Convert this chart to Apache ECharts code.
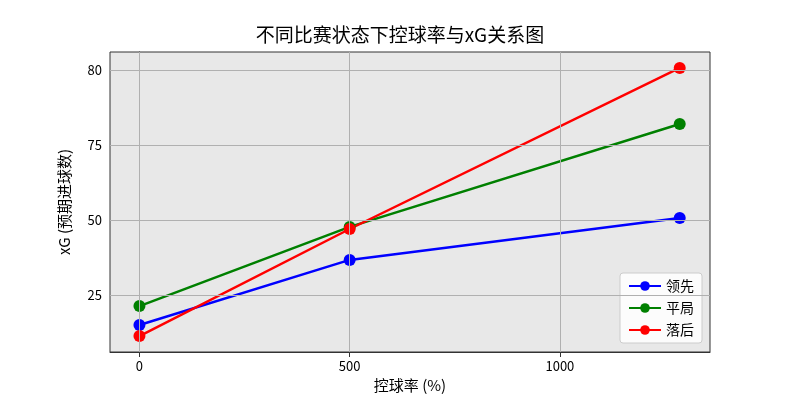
<!DOCTYPE html><html><head><meta charset="utf-8"><script src="https://cdn.jsdelivr.net/npm/echarts@6/dist/echarts.min.js"></script></head><body style="margin:0;background:#fff"><div id="c" style="width:800px;height:400px"></div><script>
const xVals=[0,500,1285];
const lead=[15,36.7,50.7];
const draw=[21.3,47.7,82];
const behind=[11.3,47,100.7];
const xTicks=[0,500,1000];
const yTicks=[25,50,75,100];
const yTickLabels=['25','50','75','80'];
const names=['领先','平局','落后'];
const colors=['#0000ff','#008000','#ff0000'];
const ff='"Noto Sans CJK SC", "DejaVu Sans", sans-serif';
const ch=echarts.init(document.getElementById('c'));
const mk=(n,d,c)=>({name:n,type:'line',data:xVals.map((x,i)=>[x,d[i]]),symbol:'circle',symbolSize:12,itemStyle:{color:c},lineStyle:{color:c,width:2.5},z:3});
ch.setOption({
 backgroundColor:'#fff',
 title:{text:'不同比赛状态下控球率与xG关系图',left:'center',top:20,textStyle:{fontFamily:ff,fontSize:19,fontWeight:'normal',color:'#000'}},
 grid:{left:110,right:90,top:52,bottom:48,show:true,backgroundColor:'#e8e8e8',borderColor:'#333',borderWidth:1},
 legend:{orient:'vertical',right:98,bottom:57,itemWidth:32,itemHeight:12,itemGap:8,backgroundColor:'rgba(255,255,255,0.85)',borderColor:'#ccc',borderWidth:1,borderRadius:3,padding:[6,8],textStyle:{fontFamily:ff,fontSize:14,color:'#000'},data:names},
 xAxis:{type:'value',min:-70,max:1357,name:'控球率 (%)',nameLocation:'middle',nameGap:24,nameTextStyle:{fontFamily:ff,fontSize:15,color:'#000'},
  axisLine:{lineStyle:{color:'#333'}},axisTick:{show:true,customValues:xTicks,lineStyle:{color:'#333'}},axisLabel:{customValues:xTicks,color:'#000',fontFamily:ff,fontSize:13,formatter:v=>String(v)},splitLine:{show:false}},
 yAxis:{type:'value',min:6,max:106,name:'xG (预期进球数)',nameLocation:'middle',nameGap:38,nameTextStyle:{fontFamily:ff,fontSize:15,color:'#000'},
  axisLine:{show:true,lineStyle:{color:'#333'}},axisTick:{show:true,customValues:yTicks,lineStyle:{color:'#333'}},axisLabel:{customValues:yTicks,color:'#000',fontFamily:ff,fontSize:13,formatter:v=>yTickLabels[yTicks.indexOf(v)]},splitLine:{show:false}},
 series:[mk(names[0],lead,colors[0]),mk(names[1],draw,colors[1]),mk(names[2],behind,colors[2]),
  {type:'line',data:[],silent:true,markLine:{silent:true,symbol:'none',label:{show:false},lineStyle:{color:'#b0b0b0',type:'solid',width:1},
   data:[...xTicks.map(v=>({xAxis:v})),...yTicks.map(v=>({yAxis:v}))]},z:1}]
});
</script></body></html>
